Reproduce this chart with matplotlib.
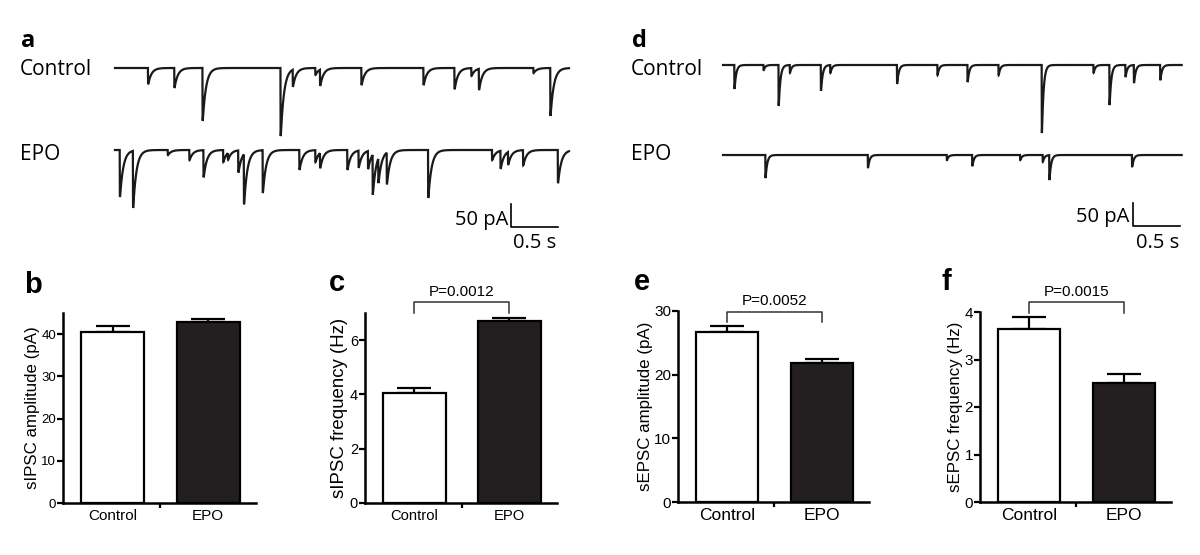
import numpy as np
import matplotlib
matplotlib.use('Agg')
import matplotlib.pyplot as plt

# ─── Data ────────────────────────────────────────────────────────────────────
GROUPS = ['Control', 'EPO']

# bar panels: mean and SEM
SIPSC_AMP      = [40.6, 42.9]
SIPSC_AMP_ERR  = [1.3, 0.7]
SIPSC_FREQ     = [4.05, 6.69]
SIPSC_FREQ_ERR = [0.18, 0.14]
SEPSC_AMP      = [26.7, 21.9]
SEPSC_AMP_ERR  = [1.0, 0.5]
SEPSC_FREQ     = [3.65, 2.51]
SEPSC_FREQ_ERR = [0.24, 0.18]

P_SIPSC_FREQ = 'P=0.0012'
P_SEPSC_AMP  = 'P=0.0052'
P_SEPSC_FREQ = 'P=0.0015'

# traces: event times (s) and amplitudes (pA)
IPSC_CTRL_T   = [0.35, 0.63, 0.93, 1.76, 1.89, 2.13, 2.18, 2.62, 3.28, 3.61, 3.79, 3.87, 4.45, 4.63]
IPSC_CTRL_AMP = [35, 43, 115, 148, 37, 15, 35, 37, 37, 46, 17, 46, 11, 104]
IPSC_EPO_T    = [0.05, 0.19, 0.56, 0.79, 0.94, 1.15, 1.20, 1.31, 1.37, 1.57, 1.96, 2.13, 2.18,
                 2.47, 2.59, 2.69, 2.74, 2.80, 2.89, 3.33, 4.01, 4.10, 4.18, 4.34, 4.71]
IPSC_EPO_AMP  = [102, 124, 11, 22, 59, 26, 15, 48, 109, 93, 43, 26, 33,
                 43, 37, 39, 87, 54, 69, 104, 22, 39, 28, 33, 72]
EPSC_CTRL_T   = [0.12, 0.43, 0.59, 0.71, 1.04, 1.14, 1.85, 2.28, 2.60, 2.93, 3.39, 3.94, 4.11, 4.28, 4.37, 4.65]
EPSC_CTRL_AMP = [52, 11, 89, 17, 56, 17, 41, 22, 37, 22, 148, 17, 87, 26, 39, 33]
EPSC_EPO_T    = [0.45, 1.54, 2.38, 2.65, 3.16, 3.40, 3.47, 4.35]
EPSC_EPO_AMP  = [50, 28, 11, 24, 11, 15, 54, 26]

W, H = 1200, 555
BAR_FONT = 'Liberation Sans'
TRACE_FONT = 'Open Sans'
DARK = '#231f20'


def px_axes(fig, l, t, r, b):
    return fig.add_axes([l / W, 1 - b / H, (r - l) / W, (b - t) / H])


def fig_text(fig, x, y, s, **kw):
    fig.text(x / W, 1 - y / H, s, **kw)


def make_trace(times, amps, t_end, tau_r, tau_d, dt=0.0005):
    t = np.arange(0, t_end, dt)
    y = np.zeros_like(t)
    for t0, a in zip(times, amps):
        s = t - t0
        m = s > 0
        shape = (1 - np.exp(-s[m] / tau_r)) * np.exp(-s[m] / tau_d)
        t_pk = tau_r * np.log((tau_d + tau_r) / tau_r)
        norm = (1 - np.exp(-t_pk / tau_r)) * np.exp(-t_pk / tau_d)
        y[m] -= a * shape / norm
    return t, y


def trace_panel(fig, box, x0, base_y, t_end, events, offset, tau_d, sb):
    l, t, r, b = box
    ax = px_axes(fig, l, t, r, b)
    s_per_px, pa_per_px = 1 / 94, 2.174
    ax.set_xlim((l - x0) * s_per_px, (r - x0) * s_per_px)
    ax.set_ylim(-(b - base_y) * pa_per_px, -(t - base_y) * pa_per_px)
    for k, (times, amps) in enumerate(events):
        tt, yy = make_trace(times, amps, t_end, 0.0008, tau_d)
        ax.plot(tt, yy - k * offset, color='#1a1a1a', lw=1.6, solid_joinstyle='miter')
    # scale bar 50 pA / 0.5 s
    sx, sy_top = sb
    ax.plot([sx, sx, sx + 0.5], [sy_top, sy_top - 50, sy_top - 50], color='black', lw=1.2)
    ax.axis('off')
    return ax


fig = plt.figure(figsize=(W / 100, H / 100), dpi=100)

# ─── Traces a / d ────────────────────────────────────────────────────────────
trace_panel(fig, (100, 20, 600, 260), 115, 68, 4.83,
            [(IPSC_CTRL_T, IPSC_CTRL_AMP), (IPSC_EPO_T, IPSC_EPO_AMP)],
            178.3, 0.035, (4.213, -295.7))
trace_panel(fig, (700, 20, 1200, 260), 723, 65, 4.88,
            [(EPSC_CTRL_T, EPSC_CTRL_AMP), (EPSC_EPO_T, EPSC_EPO_AMP)],
            195.7, 0.018, (4.362, -300.2))

for x0, lab in [(0, 'a'), (611, 'd')]:
    fig_text(fig, 21 + x0, 47, lab, fontsize=17, fontweight='bold', family=TRACE_FONT)
    fig_text(fig, 20 + x0, 75, 'Control', fontsize=15, family=TRACE_FONT)
    fig_text(fig, 20 + x0, 160, 'EPO', fontsize=15, family=TRACE_FONT)

fig_text(fig, 508, 225, '50 pA', fontsize=14.5, family=TRACE_FONT, ha='right')
fig_text(fig, 535, 248, '0.5 s', fontsize=14.5, family=TRACE_FONT, ha='center')
fig_text(fig, 1129, 222, '50 pA', fontsize=14.5, family=TRACE_FONT, ha='right')
fig_text(fig, 1158, 248, '0.5 s', fontsize=14.5, family=TRACE_FONT, ha='center')


# ─── Bar panels b, c, e, f ───────────────────────────────────────────────────
def bar_panel(box, vals, errs, ylim, yticks, ylabel, label, label_xy,
              p_text=None, bracket=None, fs=(12.2, 9.5, 11)):
    fs_lab, fs_tick, fs_cat = fs
    ax = px_axes(fig, *box)
    x = np.arange(len(GROUPS))
    ax.errorbar(x, vals, yerr=[[0, 0], errs], fmt='none', ecolor='black',
                elinewidth=1.6, capsize=12, capthick=1.6, zorder=1)
    ax.bar(x, vals, width=0.66, color=['white', DARK], edgecolor='black',
           linewidth=1.6, zorder=2)
    ax.set_xlim(-0.52, 1.5)
    ax.set_ylim(*ylim)
    ax.set_yticks(yticks)
    ax.set_xticks(x)
    ax.set_xticklabels(GROUPS)
    ax.set_xticks([0.5], minor=True)
    ax.tick_params(axis='x', which='major', length=0, pad=4, labelsize=fs_cat)
    ax.tick_params(axis='x', which='minor', length=3.5, width=1.6, direction='out')
    ax.tick_params(axis='y', length=4, width=1.6, pad=1, labelsize=fs_tick)
    for sp in ['top', 'right']:
        ax.spines[sp].set_visible(False)
    for sp in ['left', 'bottom']:
        ax.spines[sp].set_linewidth(1.8)
    ax.set_ylabel(ylabel, fontsize=fs_lab, labelpad=1)
    for tl in ax.get_xticklabels() + ax.get_yticklabels():
        tl.set_family(BAR_FONT)
    ax.yaxis.label.set_family(BAR_FONT)

    if bracket is not None:
        y_leg, y_top = bracket
        ax.plot([0, 0, 1, 1], [y_leg, y_top, y_top, y_leg], color='#333333',
                lw=1.1, clip_on=False)
        ax.annotate(p_text, xy=(0.5, y_top), xytext=(0, 2.5),
                    textcoords='offset points', ha='center', va='bottom',
                    fontsize=11, family=BAR_FONT, annotation_clip=False)
    fig_text(fig, label_xy[0], label_xy[1], label, fontsize=21,
             fontweight='bold', family=BAR_FONT)
    return ax


bar_panel((63, 313, 256, 503), SIPSC_AMP, SIPSC_AMP_ERR, (0, 45),
          [0, 10, 20, 30, 40], 'sIPSC amplitude (pA)', 'b', (24, 293),
          fs=(12.2, 9.5, 11))
bar_panel((365, 313, 557, 503), SIPSC_FREQ, SIPSC_FREQ_ERR, (0, 7),
          [0, 2, 4, 6], 'sIPSC frequency (Hz)', 'c', (329, 291),
          P_SIPSC_FREQ, (7.0, 7.4), fs=(13.4, 10.5, 10.6))
bar_panel((678, 311, 869, 502), SEPSC_AMP, SEPSC_AMP_ERR, (0, 30),
          [0, 10, 20, 30], 'sEPSC amplitude (pA)', 'e', (634, 290),
          P_SEPSC_AMP, (28.2, 29.9), fs=(12.2, 11, 12.5))
bar_panel((980, 312, 1171, 502), SEPSC_FREQ, SEPSC_FREQ_ERR, (0, 4),
          [0, 1, 2, 3, 4], 'sEPSC frequency (Hz)', 'f', (941, 290),
          P_SEPSC_FREQ, (3.98, 4.21), fs=(12.2, 11, 12.5))

fig.savefig('out.png', dpi=100, facecolor='white')
